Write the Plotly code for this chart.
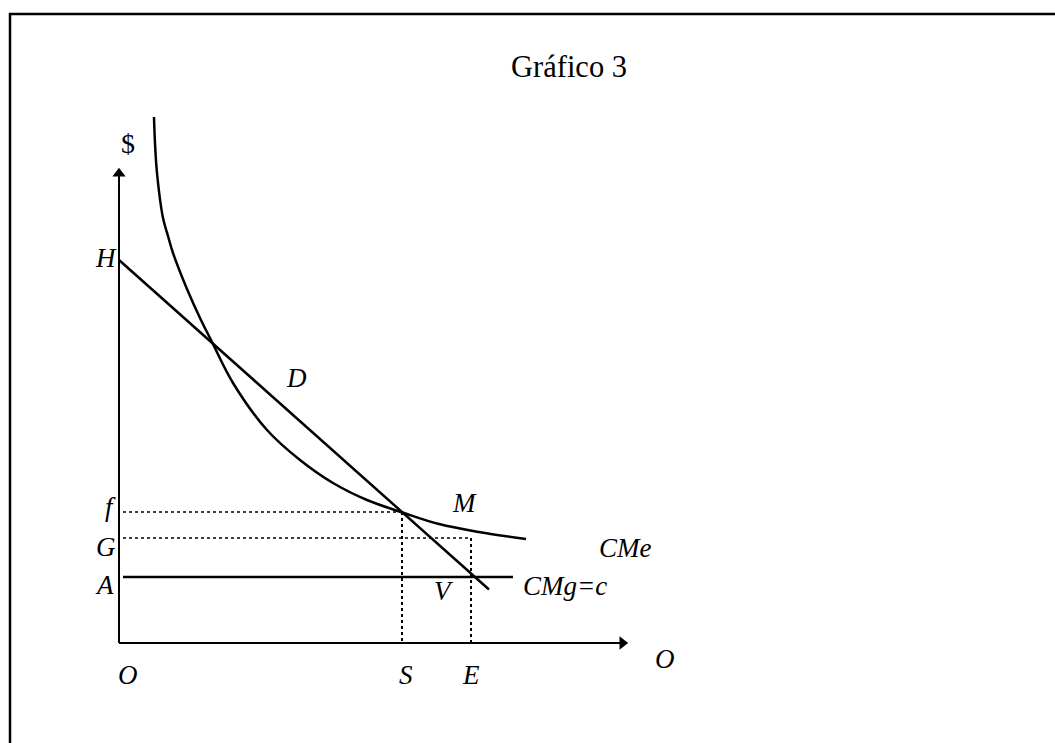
import plotly.graph_objects as go

# ---- data (economic units) ----
q_axis_end = 50.9
p_axis_end = 47.5

price_H = 38.3
price_f = 13.1
price_G = 10.5
price_A = 6.6
q_S = 28.3
q_E = 35.2

demand_q = [0.0, 37.0]
demand_p = [38.3, 5.35]

cme_q = [3.5, 3.6, 3.8, 4.4, 4.9, 5.4, 6.8, 8.1, 9.2, 11.4, 14.8, 18.1, 21.4, 24.8, 28.5, 32.0, 36.0, 40.7]
cme_p = [52.6, 50.0, 47.0, 42.5, 40.7, 39.0, 35.4, 32.5, 30.3, 26.0, 21.3, 18.3, 16.0, 14.3, 13.0, 11.9, 11.1, 10.4]

cmg_q = [0.4, 39.4]
cmg_p = [price_A, price_A]

labels_text = ["$", "H", "f", "G", "A", "O", "S", "E", "O", "M", "CMe", "V", "CMg=c", "D"]
labels_q = [0.9, -1.3, -0.9, -1.3, -1.5, 0.9, 28.7, 35.2, 54.6, 34.5, 50.6, 32.5, 44.6, 17.7]
labels_p = [50.0, 38.5, 13.6, 9.6, 5.8, -3.2, -3.2, -3.2, -1.6, 14.0, 9.5, 5.2, 5.7, 26.5]
labels_italic = [False, True, True, True, True, True, True, True, True, True, True, True, True, True]

title_text = "Gráfico 3"

FONT = "Liberation Serif, Times New Roman, serif"
W, H = 1055, 743

fig = go.Figure()

# axes
fig.add_trace(go.Scatter(x=[0, 0], y=[0, p_axis_end - 0.6], mode="lines",
                         line=dict(color="black", width=2), hoverinfo="skip"))
fig.add_trace(go.Scatter(x=[0, q_axis_end - 0.6], y=[0, 0], mode="lines",
                         line=dict(color="black", width=2), hoverinfo="skip"))
# arrow heads
fig.add_trace(go.Scatter(x=[0], y=[p_axis_end - 0.56], mode="markers",
                         marker=dict(symbol="triangle-up", size=11.5, color="black", line=dict(width=0)),
                         hoverinfo="skip"))
fig.add_trace(go.Scatter(x=[q_axis_end - 0.56], y=[0], mode="markers",
                         marker=dict(symbol="triangle-right", size=11.5, color="black", line=dict(width=0)),
                         hoverinfo="skip"))

# dotted guides
dot = dict(color="black", width=1.5, dash="dot")
fig.add_trace(go.Scatter(x=[0.4, q_S], y=[price_f, price_f], mode="lines", line=dot, hoverinfo="skip"))
fig.add_trace(go.Scatter(x=[q_S, q_S], y=[price_f, 0], mode="lines",
                         line=dict(color="black", width=2, dash="dot"), hoverinfo="skip"))
fig.add_trace(go.Scatter(x=[0.4, q_E], y=[price_G, price_G], mode="lines", line=dot, hoverinfo="skip"))
fig.add_trace(go.Scatter(x=[q_E, q_E], y=[price_G, 0], mode="lines",
                         line=dict(color="black", width=2, dash="dot"), hoverinfo="skip"))

# curves
fig.add_trace(go.Scatter(x=cmg_q, y=cmg_p, mode="lines", line=dict(color="black", width=2.5), hoverinfo="skip"))
fig.add_trace(go.Scatter(x=demand_q, y=demand_p, mode="lines", line=dict(color="black", width=2.5), hoverinfo="skip"))
fig.add_trace(go.Scatter(x=cme_q, y=cme_p, mode="lines", line=dict(color="black", width=2.5, shape="spline", smoothing=1.0),
                         hoverinfo="skip"))

# labels
for t, x, y, it in zip(labels_text, labels_q, labels_p, labels_italic):
    txt = f"<i>{t}</i>" if it else t
    fig.add_annotation(x=x, y=y, text=txt, showarrow=False, xanchor="center", yanchor="middle",
                       font=dict(family=FONT, size=27 if t != "$" else 28, color="black"))

fig.add_annotation(x=45.0, y=57.6, text=title_text, showarrow=False, xanchor="center", yanchor="middle",
                   font=dict(family=FONT, size=30.5, color="black"))

# page border
fig.add_shape(type="rect", xref="paper", yref="paper", x0=10 / W, x1=1.02, y0=-0.02, y1=1 - 14 / H,
              line=dict(color="black", width=2.5), fillcolor="rgba(0,0,0,0)")

fig.update_layout(
    width=W, height=H, margin=dict(l=0, r=0, t=0, b=0),
    paper_bgcolor="white", plot_bgcolor="white", showlegend=False,
    xaxis=dict(range=[-11.9, 93.6], visible=False, fixedrange=True),
    yaxis=dict(range=[-10.0, 64.3], visible=False, fixedrange=True),
)

fig.write_html("out.html", config={"displayModeBar": False},
               post_script="document.body.style.margin='0';document.body.style.overflow='hidden';")
